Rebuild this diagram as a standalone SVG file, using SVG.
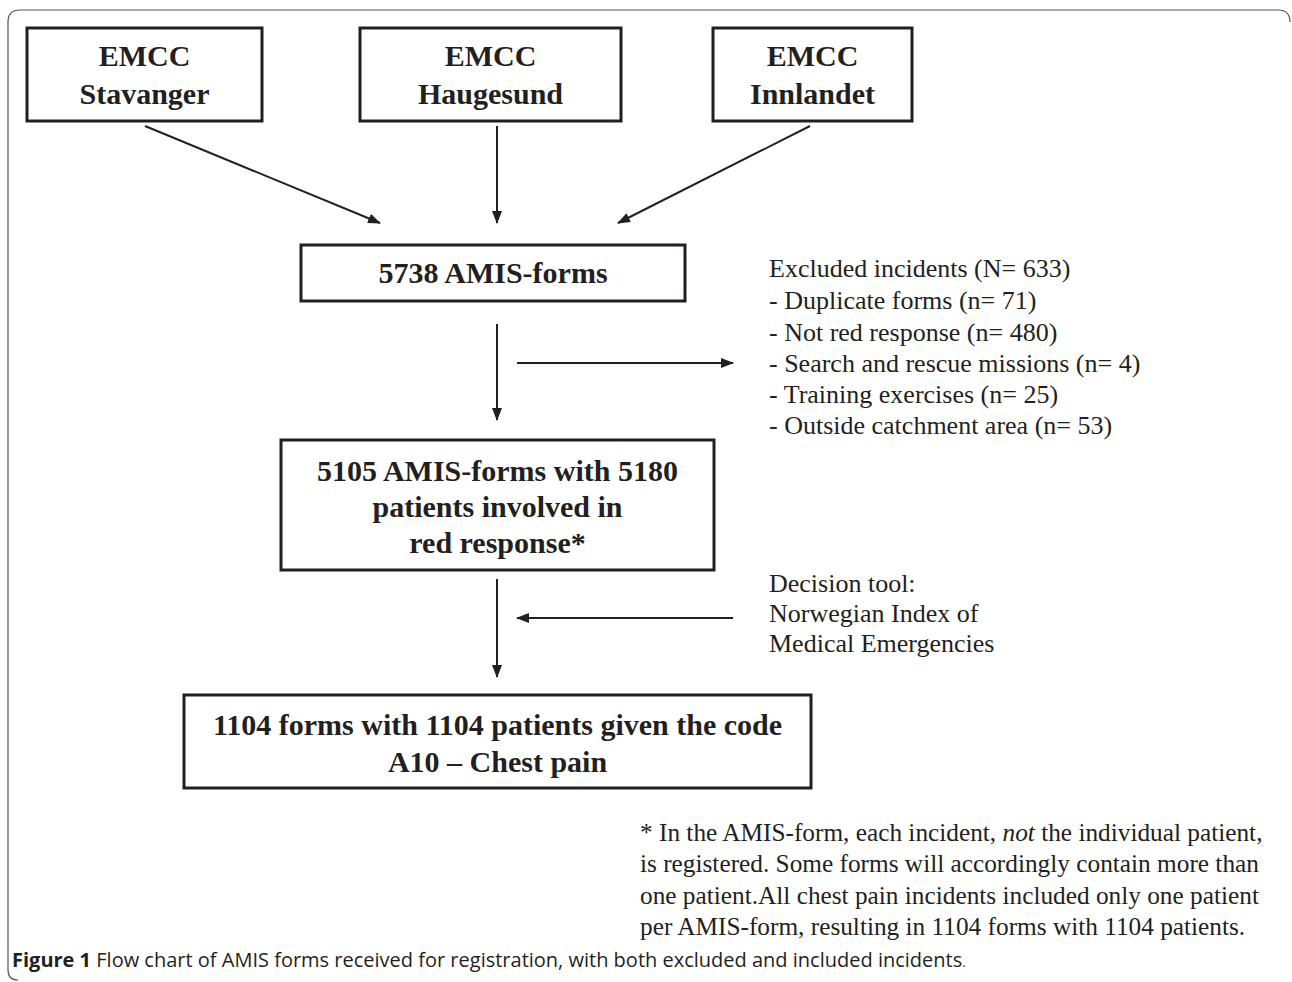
<svg xmlns="http://www.w3.org/2000/svg" width="1292" height="982" viewBox="0 0 1292 982">
<defs>
<style>
.box{fill:#fff;stroke:#231f20;stroke-width:3}
.bt{font-family:"Liberation Serif","Times New Roman",serif;font-weight:bold;font-size:30px;fill:#231f20;text-anchor:middle}
.rt{font-family:"Liberation Serif","Times New Roman",serif;font-size:26px;fill:#231f20}
.fn{font-family:"Liberation Serif","Times New Roman",serif;font-size:25.3px;fill:#231f20}
.ln{stroke:#231f20;stroke-width:2;fill:none}
.cap{font-family:"Open Sans","Liberation Sans",sans-serif;font-size:20px;fill:#231f20}
</style>
<marker id="ah" markerWidth="13" markerHeight="10" refX="12" refY="5" orient="auto" markerUnits="userSpaceOnUse" viewBox="0 0 13 10">
<path d="M0,0 L13,5 L0,10 z" fill="#231f20"/>
</marker>
</defs>
<rect width="1292" height="982" fill="#fff"/>
<path d="M18,980 Q8,980 8,970 V22 Q8,10 20,10 H1278 Q1290,10 1290,22" fill="none" stroke="#555" stroke-width="1.2"/>
<g id="stavanger">
<rect class="box" x="27" y="28" width="235" height="93"/>
<text class="bt" x="144.5" y="66">EMCC</text>
<text class="bt" x="144.5" y="104">Stavanger</text>
</g>
<g id="haugesund">
<rect class="box" x="360" y="28" width="261" height="93"/>
<text class="bt" x="490.5" y="66">EMCC</text>
<text class="bt" x="490.5" y="104">Haugesund</text>
</g>
<g id="innlandet">
<rect class="box" x="713" y="28" width="199" height="93"/>
<text class="bt" x="812.5" y="66">EMCC</text>
<text class="bt" x="812.5" y="104">Innlandet</text>
</g>
<g id="amis5738">
<rect class="box" x="301" y="245" width="384" height="56"/>
<text class="bt" x="493" y="283">5738 AMIS-forms</text>
</g>
<g id="excluded">
<text class="rt" x="769" y="277">Excluded incidents (N= 633)</text>
<text class="rt" x="769" y="309">- Duplicate forms (n= 71)</text>
<text class="rt" x="769" y="341">- Not red response (n= 480)</text>
<text class="rt" x="769" y="372">- Search and rescue missions (n= 4)</text>
<text class="rt" x="769" y="403">- Training exercises (n= 25)</text>
<text class="rt" x="769" y="434">- Outside catchment area (n= 53)</text>
</g>
<g id="amis5105">
<rect class="box" x="281" y="440" width="433" height="130"/>
<text class="bt" x="497.5" y="481">5105 AMIS-forms with 5180</text>
<text class="bt" x="497.5" y="517">patients involved in</text>
<text class="bt" x="497.5" y="553">red response*</text>
</g>
<g id="decision">
<text class="rt" x="769" y="592">Decision tool:</text>
<text class="rt" x="769" y="622">Norwegian Index of</text>
<text class="rt" x="769" y="652">Medical Emergencies</text>
</g>
<g id="chestpain">
<rect class="box" x="184" y="695" width="627" height="93"/>
<text class="bt" x="497.5" y="735">1104 forms with 1104 patients given the code</text>
<text class="bt" x="497.5" y="772">A10 – Chest pain</text>
</g>
<g id="footnote">
<text class="fn" x="640" y="841">* In the AMIS-form, each incident, <tspan font-style="italic">not</tspan> the individual patient,</text>
<text class="fn" x="640" y="872">is registered. Some forms will accordingly contain more than</text>
<text class="fn" x="640" y="904">one patient.All chest pain incidents included only one patient</text>
<text class="fn" x="640" y="935">per AMIS-form, resulting in 1104 forms with 1104 patients.</text>
</g>
<g id="caption">
<text class="cap" x="12" y="967"><tspan font-weight="bold">Figure 1</tspan> Flow chart of AMIS forms received for registration, with both excluded and included incidents<tspan font-size="13">.</tspan></text>
</g>
<g id="connectors">
<line class="ln" x1="145" y1="126" x2="380" y2="223" marker-end="url(#ah)"/>
<line class="ln" x1="497" y1="126" x2="497" y2="223" marker-end="url(#ah)"/>
<line class="ln" x1="810" y1="126" x2="618" y2="223" marker-end="url(#ah)"/>
<line class="ln" x1="497" y1="324" x2="497" y2="420" marker-end="url(#ah)"/>
<line class="ln" x1="517" y1="363" x2="733" y2="363" marker-end="url(#ah)"/>
<line class="ln" x1="497" y1="579" x2="497" y2="677" marker-end="url(#ah)"/>
<line class="ln" x1="733" y1="618" x2="517" y2="618" marker-end="url(#ah)"/>
</g>
</svg>
